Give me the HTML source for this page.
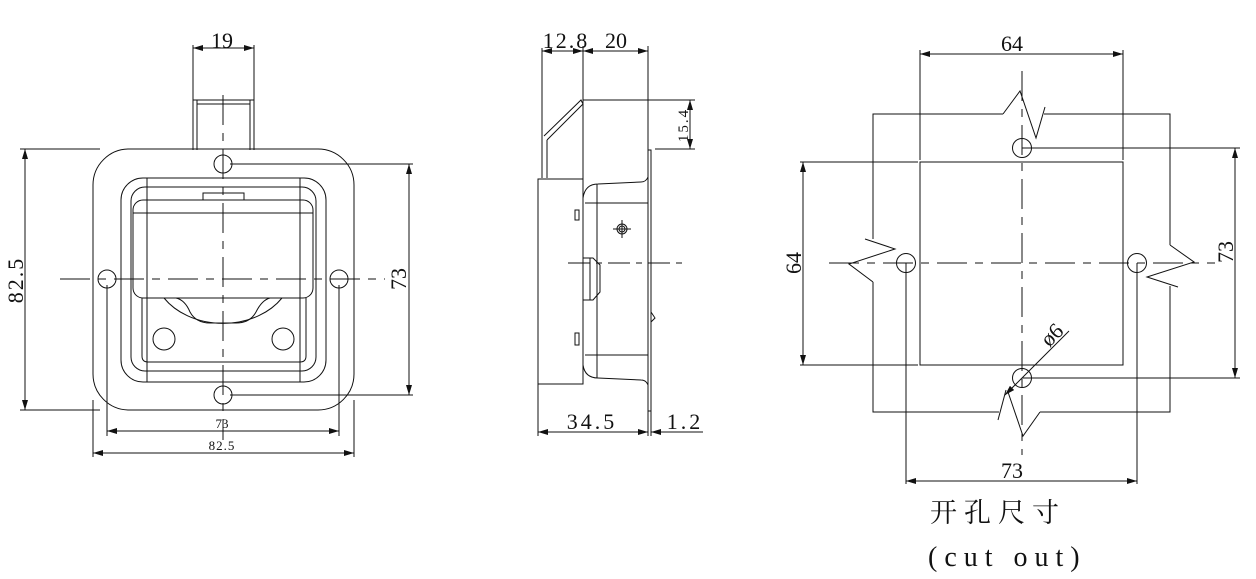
<!DOCTYPE html>
<html><head><meta charset="utf-8"><style>
html,body{margin:0;padding:0;background:#fff;}
svg{display:block;}
text{font-family:"Liberation Serif","Noto Serif CJK SC",serif;fill:#111;}
</style></head><body>
<svg width="1256" height="579" viewBox="0 0 1256 579" xmlns="http://www.w3.org/2000/svg">
<defs>
<marker id="a" viewBox="0 0 10 6" refX="10" refY="3" markerWidth="10" markerHeight="6" orient="auto-start-reverse" markerUnits="userSpaceOnUse"><path d="M0,0 L10,3 L0,6z" fill="#111"/></marker>
</defs>
<g fill="none" stroke="#111" stroke-width="1">
<!-- LEFT VIEW -->
<rect x="93" y="149" width="261" height="261" rx="36"/>
<rect x="121" y="178" width="205" height="204" rx="22"/>
<rect x="131" y="187" width="185" height="184" rx="14"/>
<rect x="133" y="200" width="180" height="98" rx="10"/>
<line x1="133" y1="213" x2="313" y2="213"/>
<path d="M142,298 L142,356 Q142,362 148,362 L300,362 Q306,362 306,356 L306,298"/>
<line x1="147" y1="178" x2="147" y2="382"/><line x1="300" y1="178" x2="300" y2="382"/>
<line x1="147" y1="362" x2="300" y2="362"/>
<rect x="203" y="193" width="41" height="7"/>
<path d="M164,298 A70,55 0 0 0 282,298"/>
<path d="M176,298 Q185,300 190,312 Q196,323 210,323 L236,323 Q250,323 256,312 Q262,300 270,298"/>
<circle cx="164" cy="339" r="11"/><circle cx="283" cy="339" r="11"/>
<line x1="193" y1="100" x2="193" y2="150"/><line x1="197" y1="100" x2="197" y2="150"/>
<line x1="250" y1="100" x2="250" y2="150"/><line x1="254" y1="100" x2="254" y2="150"/>
<line x1="193" y1="100" x2="254" y2="100"/><line x1="197" y1="104" x2="250" y2="104"/>
<circle cx="223" cy="164" r="9"/><circle cx="223" cy="395" r="9"/>
<circle cx="107" cy="279" r="9"/><circle cx="339" cy="279" r="9"/>
<line x1="223" y1="95" x2="223" y2="440" stroke-dasharray="30,8,8,8"/>
<line x1="60" y1="279" x2="385" y2="279" stroke-dasharray="30,8,8,8"/>
<line x1="193" y1="45" x2="193" y2="100"/><line x1="254" y1="45" x2="254" y2="100"/>
<line x1="193" y1="48" x2="254" y2="48" marker-start="url(#a)" marker-end="url(#a)"/>
<line x1="20" y1="149" x2="100" y2="149"/><line x1="20" y1="410" x2="100" y2="410"/>
<line x1="25" y1="149" x2="25" y2="410" marker-start="url(#a)" marker-end="url(#a)"/>
<line x1="230" y1="164" x2="413" y2="164"/><line x1="230" y1="395" x2="413" y2="395"/>
<line x1="409" y1="164" x2="409" y2="395" marker-start="url(#a)" marker-end="url(#a)"/>
<line x1="107" y1="285" x2="107" y2="436"/><line x1="339" y1="285" x2="339" y2="436"/>
<line x1="107" y1="431" x2="339" y2="431" marker-start="url(#a)" marker-end="url(#a)"/>
<line x1="93" y1="400" x2="93" y2="457"/><line x1="354" y1="400" x2="354" y2="457"/>
<line x1="93" y1="453" x2="354" y2="453" marker-start="url(#a)" marker-end="url(#a)"/>

<!-- MIDDLE VIEW -->
<line x1="542" y1="48" x2="542" y2="178"/><line x1="583" y1="46" x2="583" y2="102"/><line x1="648" y1="46" x2="648" y2="150"/>
<line x1="542" y1="51" x2="583" y2="51" marker-start="url(#a)" marker-end="url(#a)"/>
<line x1="583" y1="51" x2="648" y2="51" marker-start="url(#a)" marker-end="url(#a)"/>
<path d="M544,136 L581,100 L583,104 L547,140"/>
<line x1="547" y1="140" x2="547" y2="178"/>
<line x1="583" y1="100" x2="583" y2="382"/>
<rect x="538" y="179" width="45" height="205"/>
<rect x="648" y="150" width="3" height="261"/>
<path d="M583,198 Q585,184 598,184 L641,182 Q646,182 648,177"/>
<path d="M583,365 Q585,378 598,378 L641,380 Q646,380 648,385"/>
<line x1="585" y1="203" x2="648" y2="203"/><line x1="585" y1="355" x2="648" y2="355"/>
<line x1="597" y1="184" x2="597" y2="378"/>
<circle cx="622" cy="229" r="5"/><circle cx="622" cy="229" r="3"/>
<line x1="622" y1="220" x2="622" y2="238"/><line x1="613" y1="229" x2="631" y2="229"/>
<line x1="568" y1="263" x2="682" y2="263" stroke-dasharray="22,6,6,6"/>
<path d="M583,258 L593,258 L600,265 L600,292 L593,300 L583,300"/>
<line x1="590" y1="258" x2="590" y2="300"/>
<rect x="575" y="210" width="4" height="10"/><rect x="575" y="333" width="4" height="12"/>
<path d="M651,312 L655,318 L651,322"/>
<line x1="583" y1="100" x2="695" y2="100"/><line x1="655" y1="149" x2="695" y2="149"/>
<line x1="690" y1="100" x2="690" y2="149" marker-start="url(#a)" marker-end="url(#a)"/>
<line x1="538" y1="384" x2="538" y2="436"/><line x1="648" y1="411" x2="648" y2="436"/><line x1="651" y1="411" x2="651" y2="436"/>
<line x1="538" y1="432" x2="648" y2="432" marker-start="url(#a)" marker-end="url(#a)"/>
<line x1="651" y1="432" x2="703" y2="432" marker-start="url(#a)"/>

<!-- RIGHT VIEW -->
<line x1="920" y1="50" x2="920" y2="160"/><line x1="1123" y1="50" x2="1123" y2="160"/>
<line x1="920" y1="54" x2="1123" y2="54" marker-start="url(#a)" marker-end="url(#a)"/>
<rect x="920" y="162" width="203" height="203"/>
<polyline points="1003,114 873,114 873,239"/>
<polyline points="1003,114 1020,91 1036,138 1045,107"/>
<polyline points="1044,114 1170,114 1170,245"/>
<polyline points="865,239 895,249 849,264 873,282"/>
<polyline points="873,282 873,412 999,412"/>
<polyline points="1170,245 1194,262 1147,277 1178,287"/>
<polyline points="1170,286 1170,412 1040,412"/>
<polyline points="998,420 1006,390"/>
<polyline points="1008,392 1023,436 1040,412"/>
<circle cx="1022" cy="148" r="9.5"/><circle cx="1022" cy="378" r="9.5"/>
<circle cx="906" cy="263" r="9.5"/><circle cx="1137" cy="263" r="9.5"/>
<line x1="829" y1="263" x2="1215" y2="263" stroke-dasharray="30,8,8,8"/>
<line x1="1022" y1="71" x2="1022" y2="455" stroke-dasharray="30,8,8,8"/>
<line x1="800" y1="162" x2="918" y2="162"/><line x1="800" y1="365" x2="918" y2="365"/>
<line x1="803" y1="162" x2="803" y2="365" marker-start="url(#a)" marker-end="url(#a)"/>
<line x1="1022" y1="148" x2="1240" y2="148"/><line x1="1022" y1="378" x2="1240" y2="378"/>
<line x1="1235" y1="148" x2="1235" y2="378" marker-start="url(#a)" marker-end="url(#a)"/>
<line x1="906" y1="263" x2="906" y2="484"/><line x1="1137" y1="263" x2="1137" y2="484"/>
<line x1="906" y1="481" x2="1137" y2="481" marker-start="url(#a)" marker-end="url(#a)"/>
<line x1="1005" y1="395" x2="1069" y2="331" marker-start="url(#a)"/>
</g>
<g font-size="22">
<text x="222" y="48" text-anchor="middle">19</text>
<text transform="translate(23,280) rotate(-90)" text-anchor="middle" letter-spacing="2">82.5</text>
<text transform="translate(406,279) rotate(-90)" text-anchor="middle">73</text>
<text x="222" y="428" text-anchor="middle" font-size="13" fill="#5a2a1a">73</text>
<text x="222" y="450" text-anchor="middle" font-size="13" letter-spacing="1">82.5</text>
<text x="566" y="48" text-anchor="middle" letter-spacing="2">12.8</text>
<text x="616" y="48" text-anchor="middle">20</text>
<text transform="translate(688,125) rotate(-90)" text-anchor="middle" font-size="15" letter-spacing="2">15.4</text>
<text x="592" y="429" text-anchor="middle" letter-spacing="3">34.5</text>
<text x="685" y="429" text-anchor="middle" letter-spacing="3">1.2</text>
<text x="1012" y="51" text-anchor="middle">64</text>
<text transform="translate(801,263) rotate(-90)" text-anchor="middle">64</text>
<text transform="translate(1233,252) rotate(-90)" text-anchor="middle">73</text>
<text x="1012" y="478" text-anchor="middle">73</text>
<text transform="translate(1057,340) rotate(-45)" text-anchor="middle">ø6</text>
</g>
<text x="930" y="522" font-size="27" letter-spacing="7" style="font-family:'Noto Serif CJK SC','Noto Sans CJK SC',serif">开孔尺寸</text>
<text x="928" y="566" font-size="28" letter-spacing="7">(cut out)</text>
</svg>
</body></html>
